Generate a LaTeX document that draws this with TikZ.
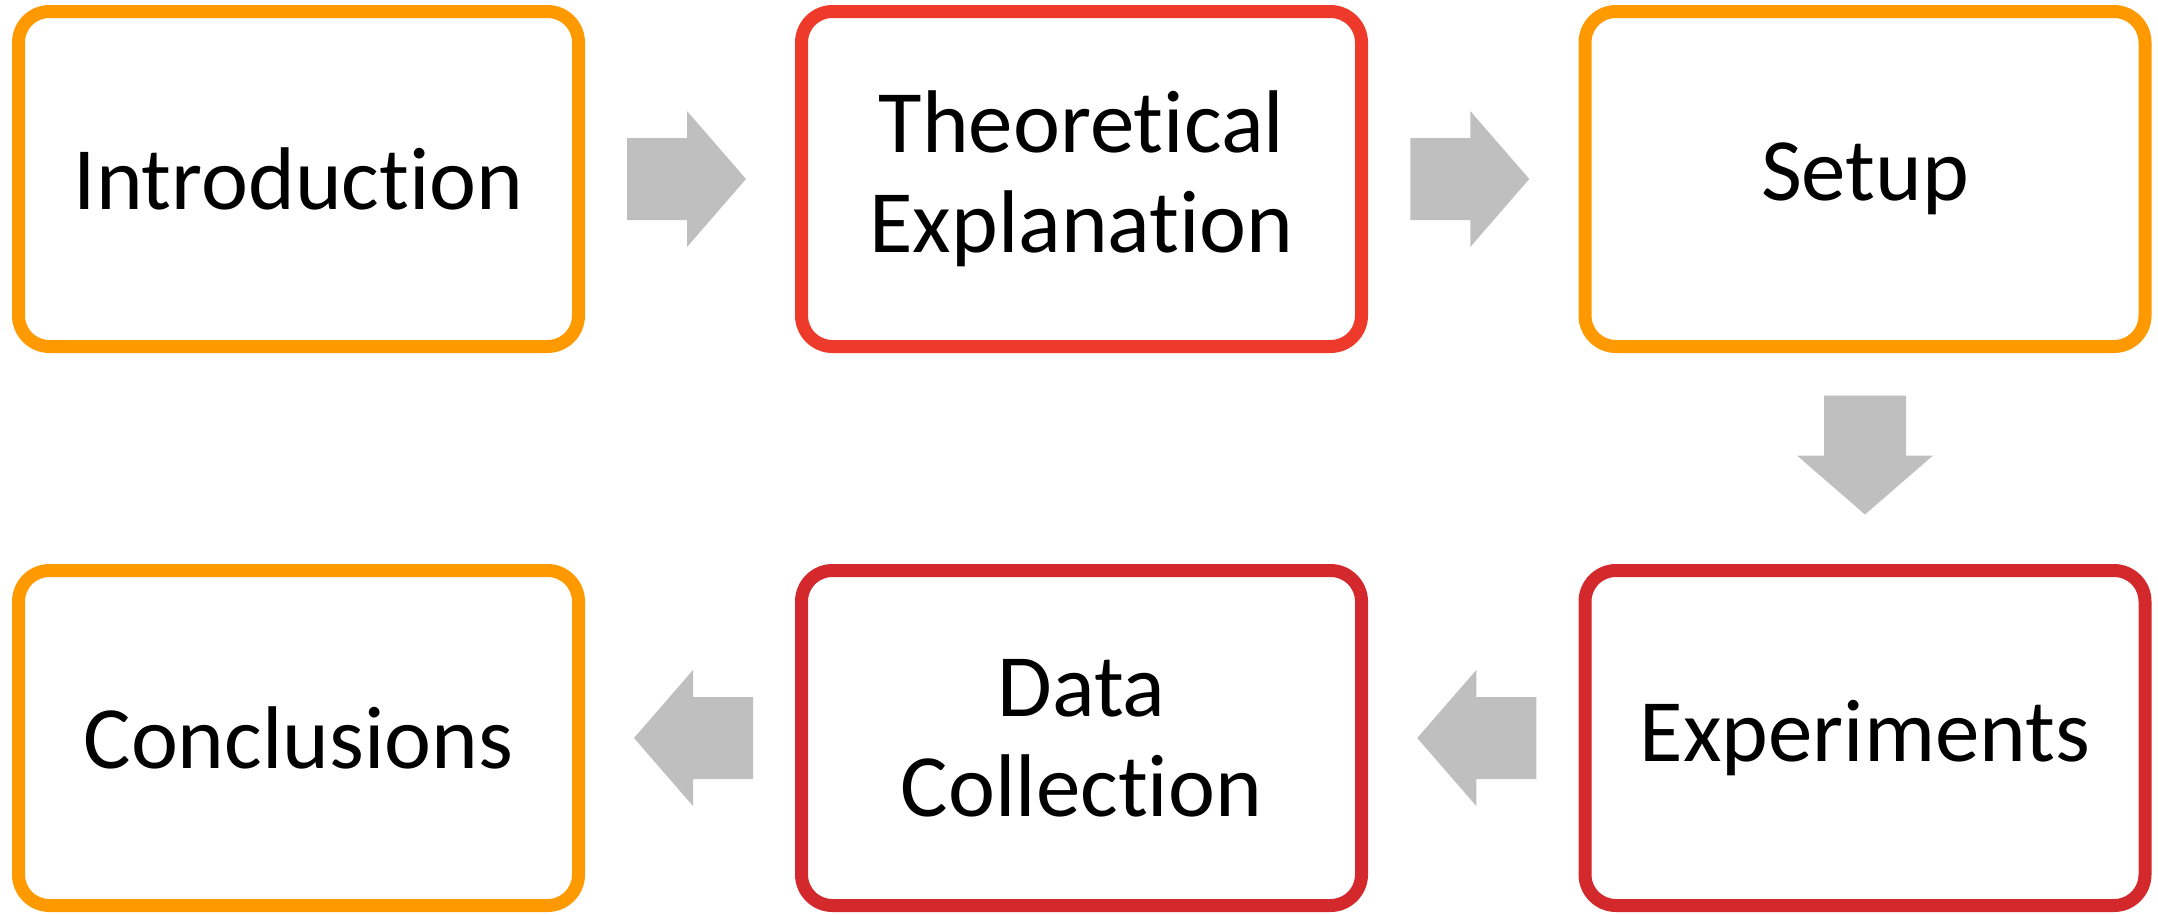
\documentclass[tikz,border=0pt]{standalone}
\usepackage{fontspec}
\setmainfont{Carlito}[RawFeature={-liga;-clig;-calt;-dlig}]
\usetikzlibrary{calc}
\definecolor{boxorange}{RGB}{255,153,0}
\definecolor{boxredA}{RGB}{238,58,43}
\definecolor{boxredB}{RGB}{211,41,44}
\definecolor{arrowgray}{RGB}{191,191,191}
\tikzset{
  stagebox/.style={draw, line width=13pt, rounded corners=31pt, fill=white,
    minimum width=560pt, minimum height=335pt, inner sep=0pt, align=center,
    font=\fontsize{89pt}{100pt}\selectfont, text=black},
  blockarrow/.pic={\fill[arrowgray] (-63,-41) -- (-3,-41) -- (-3,-68) -- (56,0)
    -- (-3,68) -- (-3,41) -- (-63,41) -- cycle;}
}
\begin{document}
\begin{tikzpicture}[x=1pt,y=-1pt]
\useasboundingbox (0,0) rectangle (2158,914);
\node[stagebox, draw=boxorange] (intro) at (298.5,179) {Introduction};
\node[stagebox, draw=boxredA] (theo) at (1081.5,179) {Theoretical\\Explanation};
\node[stagebox, draw=boxorange] (setup) at (1865,179) {Setup};
\node[stagebox, draw=boxredB] (exp) at (1865,738) {Experiments};
\node[stagebox, draw=boxredB] (data) at (1081.5,738) {Data\\Collection};
\node[stagebox, draw=boxorange] (concl) at (298.5,738) {Conclusions};
\coordinate (m1) at ($(intro.east)!0.5!(theo.west)$);
\coordinate (m2) at ($(theo.east)!0.5!(setup.west)$);
\coordinate (m3) at ($(setup.south)!0.5!(exp.north)$);
\coordinate (m4) at ($(exp.west)!0.5!(data.east)$);
\coordinate (m5) at ($(data.west)!0.5!(concl.east)$);
\pic at (m1) {blockarrow};
\pic at (m2) {blockarrow};
\pic[rotate=-90] at (m3) {blockarrow};
\pic[rotate=180] at (m4) {blockarrow};
\pic[rotate=180] at (m5) {blockarrow};
\end{tikzpicture}
\end{document}
